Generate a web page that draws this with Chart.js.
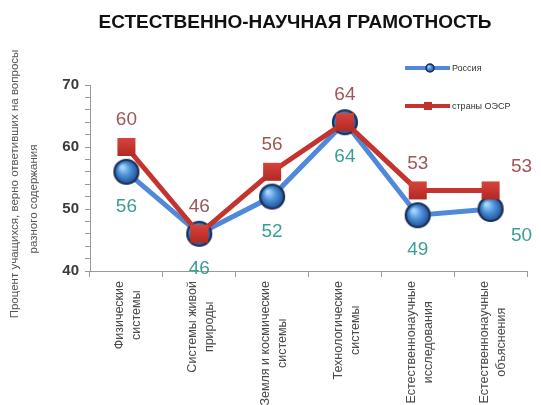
<!DOCTYPE html>
<html>
<head>
<meta charset="utf-8">
<script src="https://cdn.jsdelivr.net/npm/chart.js@4"></script>
<style>
  html, body { margin: 0; padding: 0; background: #fff; }
  #wrap { width: 541px; height: 405px; }
</style>
</head>
<body>
<div id="wrap"><canvas id="science-chart"></canvas></div>
<script>
const title = "ЕСТЕСТВЕННО-НАУЧНАЯ ГРАМОТНОСТЬ";
const yTitle = ["Процент учащихся, верно ответивших на вопросы", "разного содержания"];
const categories = [
  ["Физические", "системы"],
  ["Системы живой", "природы"],
  ["Земля и космические", "системы"],
  ["Технологические", "системы"],
  ["Естественнонаучные", "исследования"],
  ["Естественнонаучные", "объяснения"]
];
const seriesNames = ["Россия", "страны ОЭСР"];
const russia = [56, 46, 52, 64, 49, 50];
const oecd = [60, 46, 56, 64, 53, 53];
const yTicks = [40, 50, 60, 70];

const FONT = "'Liberation Sans', Arial, sans-serif";

// shaded blue ball used as the Russia marker
function makeBall(r) {
  const c = document.createElement("canvas");
  const s = r * 2 + 4;
  c.width = s; c.height = s;
  const g = c.getContext("2d");
  const cx = s / 2, cy = s / 2;
  const grad = g.createRadialGradient(cx - r * 0.35, cy - r * 0.4, r * 0.1, cx, cy, r);
  grad.addColorStop(0, "#a9d8f7");
  grad.addColorStop(0.45, "#4f95dc");
  grad.addColorStop(1, "#1f4f98");
  g.beginPath();
  g.arc(cx, cy, r, 0, Math.PI * 2);
  g.fillStyle = grad;
  g.fill();
  g.lineWidth = Math.max(1.5, r * 0.18);
  g.strokeStyle = "#1c2f55";
  g.stroke();
  return c;
}

// red block used as the OECD marker
function makeSquare(side) {
  const c = document.createElement("canvas");
  c.width = side + 2; c.height = side + 2;
  const g = c.getContext("2d");
  const grad = g.createLinearGradient(0, 0, 0, side);
  grad.addColorStop(0, "#d8463c");
  grad.addColorStop(1, "#b52a24");
  g.fillStyle = grad;
  g.fillRect(1, 1, side, side);
  return c;
}

const ball = makeBall(12);
const square = makeSquare(18);

const labelColors = ["#3a9f93", "#9e5656"];

const extrasPlugin = {
  id: "extras",
  afterDraw(chart) {
    const ctx = chart.ctx;
    const x = chart.scales.x;
    ctx.save();

    // heading
    ctx.fillStyle = "#111";
    ctx.font = "bold 19px " + FONT;
    ctx.textAlign = "center";
    ctx.textBaseline = "middle";
    ctx.fillText(title, 295, 23, 396);

    // y axis caption, two rotated lines
    ctx.fillStyle = "#555";
    ctx.font = "11.5px " + FONT;
    ctx.save();
    ctx.translate(15, 184);
    ctx.rotate(-Math.PI / 2);
    ctx.fillText(yTitle[0], 0, 0);
    ctx.restore();
    ctx.save();
    ctx.translate(34, 199);
    ctx.rotate(-Math.PI / 2);
    ctx.fillText(yTitle[1], 0, 0);
    ctx.restore();

    // category names, vertical, lines centred in their block
    ctx.fillStyle = "#4a4a4a";
    ctx.font = "12.5px " + FONT;
    chart.data.labels.forEach((lines, i) => {
      const cx = x.getPixelForTick(i) + 2;
      const w = Math.max(...lines.map(l => ctx.measureText(l).width));
      const top = x.top + 10;
      lines.forEach((line, j) => {
        ctx.save();
        ctx.translate(cx + (j - (lines.length - 1) / 2) * 17, top + w / 2);
        ctx.rotate(-Math.PI / 2);
        ctx.fillText(line, 0, 0);
        ctx.restore();
      });
    });

    // value labels: Russia below its points, OECD above
    ctx.font = "19px " + FONT;
    chart.data.datasets.forEach((ds, di) => {
      const meta = chart.getDatasetMeta(di);
      meta.data.forEach((pt, i) => {
        const last = i === ds.data.length - 1;
        let dx = last ? 31 : 0;
        let dy = di === 0 ? (last ? 27 : 35) : (last ? -24 : -27);
        ctx.fillStyle = labelColors[di];
        ctx.fillText(String(ds.data[i]), pt.x + dx, pt.y + dy);
      });
    });

    // legend
    const rows = [68, 106];
    chart.data.datasets.forEach((ds, di) => {
      const y = rows[di];
      ctx.strokeStyle = ds.borderColor;
      ctx.lineWidth = 4;
      ctx.beginPath();
      ctx.moveTo(405, y);
      ctx.lineTo(450, y);
      ctx.stroke();
      if (di === 0) {
        ctx.drawImage(makeBall(4), 430 - 6, y - 6);
      } else {
        ctx.fillStyle = "#c0332c";
        ctx.fillRect(424, y - 4, 8, 8);
      }
      ctx.fillStyle = "#333";
      ctx.font = "9px " + FONT;
      ctx.textAlign = "left";
      ctx.fillText(seriesNames[di], 452, y + 1);
    });

    ctx.restore();
  }
};

new Chart(document.getElementById("science-chart"), {
  type: "line",
  data: {
    labels: categories,
    datasets: [
      {
        label: seriesNames[0],
        data: russia,
        borderColor: "#5189da",
        borderWidth: 5,
        pointStyle: ball,
        order: 2
      },
      {
        label: seriesNames[1],
        data: oecd,
        borderColor: "#c4332d",
        borderWidth: 5,
        pointStyle: square,
        order: 1
      }
    ]
  },
  options: {
    responsive: true,
    maintainAspectRatio: false,
    animation: false,
    layout: { padding: { top: 85, right: 14, left: 0, bottom: 0 } },
    plugins: {
      legend: { display: false },
      tooltip: { enabled: false }
    },
    scales: {
      x: {
        offset: true,
        grid: { offset: true, drawOnChartArea: false, tickLength: 6, color: "#999" },
        border: { color: "#999" },
        ticks: { display: false },
        afterFit(scale) { scale.height = 134; }
      },
      y: {
        min: yTicks[0],
        max: yTicks[yTicks.length - 1],
        grid: { drawOnChartArea: false, tickLength: 5, color: "#999" },
        border: { color: "#999" },
        ticks: {
          stepSize: 2,
          autoSkip: false,
          padding: 6,
          color: "#3a3a3a",
          font: { family: FONT, size: 15, weight: "bold" },
          callback: v => (yTicks.includes(v) ? String(v) : "")
        },
        afterFit(scale) { scale.width = 90; }
      }
    }
  },
  plugins: [extrasPlugin]
});
</script>
</body>
</html>
